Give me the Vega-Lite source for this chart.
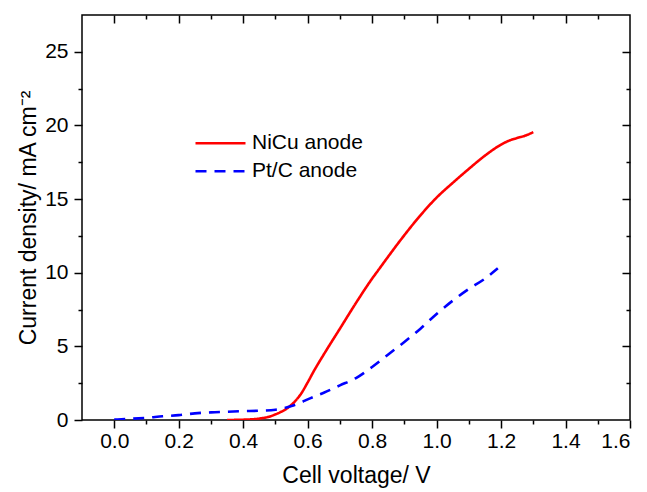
{
  "$schema": "https://vega.github.io/schema/vega-lite/v6.json",
  "width": 548,
  "height": 405,
  "autosize": {"type": "none"},
  "padding": {"left": 82, "top": 15, "right": 17, "bottom": 72},
  "background": "white",
  "config": {
    "view": {"stroke": "black", "strokeWidth": 1.5},
    "font": "Liberation Sans",
    "axis": {"grid": false, "domain": false, "tickColor": "black", "tickWidth": 1.5, "labelColor": "black", "titleColor": "black", "labelFont": "Liberation Sans", "titleFont": "Liberation Sans", "titleFontWeight": "normal", "labelFontSize": 21, "titleFontSize": 23}
  },
  "data": {"values": [
    {"v": 0.35, "j": 0.0, "s": "NiCu anode"},
    {"v": 0.40, "j": 0.02, "s": "NiCu anode"},
    {"v": 0.45, "j": 0.1, "s": "NiCu anode"},
    {"v": 0.48, "j": 0.22, "s": "NiCu anode"},
    {"v": 0.50, "j": 0.38, "s": "NiCu anode"},
    {"v": 0.52, "j": 0.58, "s": "NiCu anode"},
    {"v": 0.54, "j": 0.85, "s": "NiCu anode"},
    {"v": 0.56, "j": 1.25, "s": "NiCu anode"},
    {"v": 0.58, "j": 1.8, "s": "NiCu anode"},
    {"v": 0.60, "j": 2.55, "s": "NiCu anode"},
    {"v": 0.62, "j": 3.35, "s": "NiCu anode"},
    {"v": 0.65, "j": 4.45, "s": "NiCu anode"},
    {"v": 0.70, "j": 6.2, "s": "NiCu anode"},
    {"v": 0.75, "j": 7.95, "s": "NiCu anode"},
    {"v": 0.80, "j": 9.6, "s": "NiCu anode"},
    {"v": 0.82, "j": 10.2, "s": "NiCu anode"},
    {"v": 0.85, "j": 11.1, "s": "NiCu anode"},
    {"v": 0.90, "j": 12.55, "s": "NiCu anode"},
    {"v": 0.95, "j": 13.9, "s": "NiCu anode"},
    {"v": 1.00, "j": 15.1, "s": "NiCu anode"},
    {"v": 1.05, "j": 16.1, "s": "NiCu anode"},
    {"v": 1.10, "j": 17.05, "s": "NiCu anode"},
    {"v": 1.15, "j": 17.95, "s": "NiCu anode"},
    {"v": 1.20, "j": 18.7, "s": "NiCu anode"},
    {"v": 1.225, "j": 18.97, "s": "NiCu anode"},
    {"v": 1.25, "j": 19.15, "s": "NiCu anode"},
    {"v": 1.28, "j": 19.35, "s": "NiCu anode"},
    {"v": 1.30, "j": 19.55, "s": "NiCu anode"},
    {"v": 0.00, "j": 0.03, "s": "Pt/C anode"},
    {"v": 0.05, "j": 0.08, "s": "Pt/C anode"},
    {"v": 0.10, "j": 0.15, "s": "Pt/C anode"},
    {"v": 0.15, "j": 0.25, "s": "Pt/C anode"},
    {"v": 0.20, "j": 0.33, "s": "Pt/C anode"},
    {"v": 0.25, "j": 0.45, "s": "Pt/C anode"},
    {"v": 0.30, "j": 0.52, "s": "Pt/C anode"},
    {"v": 0.35, "j": 0.56, "s": "Pt/C anode"},
    {"v": 0.40, "j": 0.6, "s": "Pt/C anode"},
    {"v": 0.45, "j": 0.63, "s": "Pt/C anode"},
    {"v": 0.50, "j": 0.7, "s": "Pt/C anode"},
    {"v": 0.55, "j": 0.95, "s": "Pt/C anode"},
    {"v": 0.58, "j": 1.2, "s": "Pt/C anode"},
    {"v": 0.60, "j": 1.4, "s": "Pt/C anode"},
    {"v": 0.65, "j": 1.85, "s": "Pt/C anode"},
    {"v": 0.70, "j": 2.35, "s": "Pt/C anode"},
    {"v": 0.75, "j": 2.85, "s": "Pt/C anode"},
    {"v": 0.80, "j": 3.6, "s": "Pt/C anode"},
    {"v": 0.85, "j": 4.45, "s": "Pt/C anode"},
    {"v": 0.90, "j": 5.3, "s": "Pt/C anode"},
    {"v": 0.95, "j": 6.2, "s": "Pt/C anode"},
    {"v": 1.00, "j": 7.2, "s": "Pt/C anode"},
    {"v": 1.05, "j": 8.1, "s": "Pt/C anode"},
    {"v": 1.10, "j": 8.9, "s": "Pt/C anode"},
    {"v": 1.15, "j": 9.6, "s": "Pt/C anode"},
    {"v": 1.19, "j": 10.3, "s": "Pt/C anode"}
  ]},
  "layer": [
    {
      "mark": {"type": "line", "strokeWidth": 2.6, "clip": true, "interpolate": "monotone"},
      "encoding": {
        "x": {"field": "v", "type": "quantitative", "scale": {"domain": [-0.1, 1.6], "nice": false, "zero": false},
          "axis": {"orient": "bottom", "title": "Cell voltage/ V", "values": [0, 0.1, 0.2, 0.3, 0.4, 0.5, 0.6, 0.7, 0.8, 0.9, 1.0, 1.1, 1.2, 1.3, 1.4, 1.5, 1.6], "format": ".1f", "labelExpr": "round(datum.value*10) % 2 == 0 ? datum.label : ''", "tickSize": {"condition": {"test": "round(datum.value*10) % 2 == 0", "value": 8}, "value": 4}, "labelPadding": 2, "titlePadding": 13}},
        "y": {"field": "j", "type": "quantitative", "scale": {"domain": [0, 27.5], "nice": false},
          "axis": {"orient": "left", "title": "Current density/ mA cm⁻²", "values": [0, 2.5, 5, 7.5, 10, 12.5, 15, 17.5, 20, 22.5, 25], "labelExpr": "datum.value % 5 == 0 ? datum.label : ''", "tickSize": {"condition": {"test": "datum.value % 5 == 0", "value": 8}, "value": 4}, "labelPadding": 6, "titlePadding": 4}},
        "color": {"field": "s", "type": "nominal", "scale": {"domain": ["NiCu anode", "Pt/C anode"], "range": ["#ff0000", "#0000ff"]},
          "legend": {"title": null, "orient": "none", "legendX": 112, "legendY": 114.5, "symbolType": "stroke", "symbolSize": 2500, "symbolStrokeWidth": 2.6, "labelFontSize": 21, "labelFont": "Liberation Sans", "labelColor": "black", "labelOffset": 5, "rowPadding": 0, "clipHeight": 27.5}},
        "strokeDash": {"field": "s", "type": "nominal", "scale": {"domain": ["NiCu anode", "Pt/C anode"], "range": [[1, 0], [11, 8]]}, "legend": {"title": null}}
      }
    },
    {
      "mark": {"type": "point", "opacity": 0},
      "encoding": {
        "x": {"field": "v", "type": "quantitative",
          "axis": {"orient": "top", "title": null, "labels": false, "values": [0, 0.1, 0.2, 0.3, 0.4, 0.5, 0.6, 0.7, 0.8, 0.9, 1.0, 1.1, 1.2, 1.3, 1.4, 1.5], "tickSize": {"condition": {"test": "round(datum.value*10) % 2 == 0", "value": -8}, "value": -4}}},
        "y": {"field": "j", "type": "quantitative",
          "axis": {"orient": "right", "title": null, "labels": false, "values": [2.5, 5, 7.5, 10, 12.5, 15, 17.5, 20, 22.5, 25], "tickSize": {"condition": {"test": "datum.value % 5 == 0", "value": -8}, "value": -4}}}
      }
    }
  ],
  "resolve": {"axis": {"x": "independent", "y": "independent"}}
}
